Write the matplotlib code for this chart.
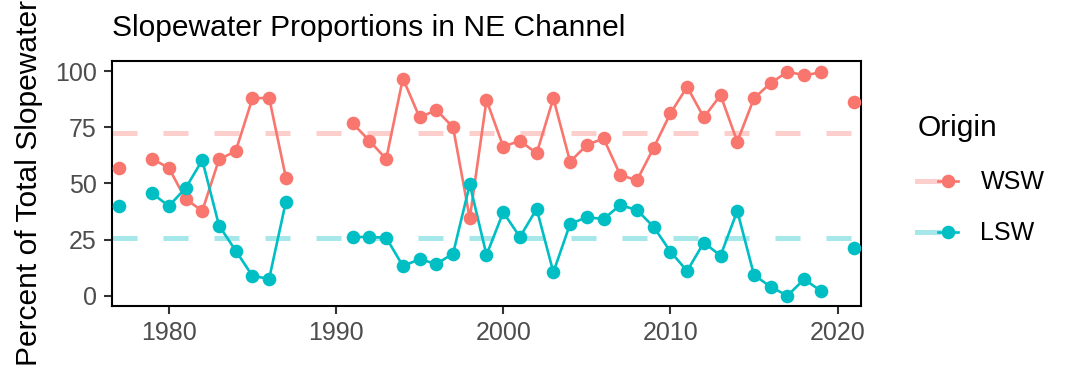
import numpy as np
import matplotlib
matplotlib.use("Agg")
import matplotlib.pyplot as plt
from matplotlib.lines import Line2D
from matplotlib.legend_handler import HandlerTuple

plt.rcParams['font.family'] = ['Liberation Sans', 'DejaVu Sans']

nan = np.nan
years = list(range(1977, 2022))

wsw = [57.0, nan, 61.0, 56.9, 43.1, 37.8, 60.7, 64.4, 87.9, 88.1, 52.6,
       nan, nan, nan, 76.7, 69.0, 60.9, 96.7, 79.4, 82.7, 75.0, 34.5,
       87.1, 66.4, 69.0, 63.4, 87.9, 59.7, 67.1, 70.1, 53.8, 51.4, 65.9,
       81.2, 93.0, 79.4, 89.3, 68.6, 87.9, 94.7, 99.7, 98.2, 99.4, nan, 86.4]

lsw = [40.1, nan, 45.6, 40.0, 47.9, 60.4, 31.3, 20.1, 8.9, 7.6, 41.9,
       nan, nan, nan, 26.2, 26.2, 25.9, 13.3, 16.3, 14.2, 18.8, 49.6,
       18.2, 37.2, 26.2, 38.7, 10.5, 32.0, 35.0, 34.2, 40.4, 38.2, 30.7,
       19.7, 11.1, 23.7, 17.9, 37.8, 9.3, 4.0, 0.1, 7.4, 2.2, nan, 21.5]

origins = ['WSW', 'LSW']
means = [72.6, 25.8]
colors = ['#F8766D', '#00BFC4']
series = [wsw, lsw]

fig = plt.figure(figsize=(10.8, 3.78), dpi=100)
ax = fig.add_axes([112/1080, 1 - 306/378, (861-112)/1080, (306-61)/378])

handles = []
for name, vals, m, c in zip(origins, series, means, colors):
    ax.axhline(m, color=c, alpha=0.35, lw=3.6, ls=(0, (5, 5.2)), zorder=1)
    ax.plot(years, vals, color=c, lw=1.9, zorder=2)
    ax.plot(years, vals, 'o', color=c, ms=9.8, mec='none', zorder=3)
    bg = Line2D([], [], color=c, alpha=0.35, lw=3.6)
    fg = Line2D([], [], color=c, lw=1.9, marker='o', ms=9.8, mec='none')
    handles.append((bg, fg))

ax.set_xlim(1976.6, 2021.4)
ax.set_ylim(-4.5, 104.5)
ax.set_xticks([1980, 1990, 2000, 2010, 2020])
ax.set_yticks([0, 25, 50, 75, 100])
ax.tick_params(labelsize=18, labelcolor='#4D4D4D', color='#333333',
               width=1.5, length=6, pad=5)
for s in ax.spines.values():
    s.set_linewidth(1.5)
    s.set_color('black')

fig.text(112/1080, 1 - 28/378, 'Slopewater Proportions in NE Channel',
         fontsize=21.6, ha='left', va='center')
fig.text(29/1080, 1 - 183.5/378, 'Percent of Total Slopewater',
         fontsize=21.6, rotation=90, ha='center', va='center')

leg = fig.legend(handles, origins, handler_map={tuple: HandlerTuple(ndivide=None)},
                 loc='upper left', bbox_to_anchor=(905/1080, 1 - 102/378),
                 frameon=False, fontsize=18, title='Origin', title_fontsize=21.6,
                 alignment='left', handlelength=1.64, handletextpad=0.88,
                 labelspacing=1.08, borderpad=0)
leg._legend_box.sep = 20

fig.savefig('out.png', dpi=100)
